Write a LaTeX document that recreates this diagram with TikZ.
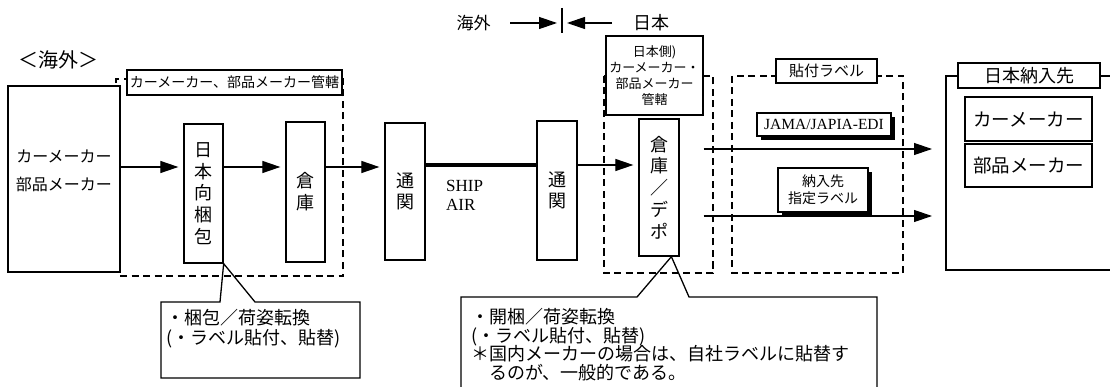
\documentclass[tikz,border=0pt]{standalone}
\usepackage{fontspec}
\setmainfont{Noto Sans CJK JP}
\newfontfamily\latserif{Liberation Serif}
\usetikzlibrary{arrows.meta,shadows,calc}
\newcommand\jfs[2]{\fontsize{#1}{#2}\selectfont}
\begin{document}
\begin{tikzpicture}[x=1pt,y=-1pt,
  box/.style={draw, line width=1.3pt, fill=white, inner sep=0pt},
  dbox/.style={draw, line width=1.3pt, dash pattern=on 7pt off 4.5pt},
  arr/.style={line width=1.2pt, -{Triangle[length=18pt,width=12pt]}, shorten >=5pt},
  shbox/.style={box, drop shadow={shadow xshift=4pt, shadow yshift=-4pt, fill=black, opacity=1}},
  vertbox/.style={box, minimum width=40pt, align=center, font=\jfs{18}{21.7}},
  cobox/.style={draw, line width=1.3pt, line join=miter},
  cotext/.style={anchor=north west, inner sep=0pt, align=left, font=\jfs{18}{18.7}},
]
\useasboundingbox (0,0) rectangle (1110,387);

% header
\node[font=\jfs{20}{24}] (oversea) at (58,60) {＜海外＞};
\node[font=\jfs{17}{20}] (kaigai) at (473.5,23) {海外};
\node[font=\jfs{18}{20}] (nihon) at (651,23) {日本};
\coordinate (ka) at (510,23); \coordinate (kb) at (557,23);
\coordinate (kc) at (612,23); \coordinate (kd) at (567,23);
\coordinate (bt) at (562,8); \coordinate (bb) at (562,33);
\draw[line width=1.2pt] (bt) -- (bb);
\draw[arr, shorten >=0pt] (ka) -- (kb);
\draw[arr, shorten >=0pt] (kc) -- (kd);

% overseas group
\draw[dbox] (120,276) -- (343,276) -- (343,79) -- (116,79) -- (116,86);
\node[box, minimum width=112pt, minimum height=186pt] (src) at (64,179) {};
\node[font=\jfs{16}{28}, align=center] (srct) at (64,171) {カーメーカー\\部品メーカー};
\node[box, minimum width=215pt, minimum height=25pt, font=\jfs{14}{16}] (g1) at (234.5,82.5) {カーメーカー、部品メーカー管轄};
\node[vertbox, minimum width=39pt, minimum height=139pt] (pack) at (203.5,193.5) {日\\本\\向\\梱\\包};
\node[vertbox, minimum width=39pt, minimum height=140pt] (wh1) at (305.5,192) {倉\\庫};
\node[vertbox, minimum height=137pt] (cus1) at (405,191.5) {通\\関};
\node[font=\latserif\fontsize{17}{19}\selectfont, align=left, anchor=west, inner sep=0pt] (ship) at (446,195) {SHIP\\AIR};
\node[vertbox, minimum height=139pt] (cus2) at (557,190.5) {通\\関};

% Japan side
\draw[dbox] (604,76) rectangle (713,273);
\node[box, minimum width=97pt, minimum height=79pt, align=center, font=\jfs{13}{16}] (jp) at (654.5,75.5) {日本側)\\カーメーカー・\\部品メーカー\\管轄};
\node[vertbox, minimum height=137pt] (depot) at (659,187.5) {倉\\庫\\／\\デ\\ポ};

\draw[dbox] (732,76) rectangle (903,273);
\node[box, minimum width=101pt, minimum height=24pt, font=\jfs{15}{18}] (lbl) at (826.5,71) {貼付ラベル};
\node[shbox, minimum width=134pt, minimum height=23pt, font=\latserif\fontsize{15.5}{18}\selectfont] (edi) at (824,124.5) {JAMA/JAPIA-EDI};
\node[shbox, minimum width=90pt, minimum height=44pt, align=center, font=\jfs{14}{17}] (shitei) at (823,190) {納入先\\指定ラベル};

% destination
\coordinate (destL) at (946,76);
\draw[line width=1.3pt] (1110,76) -- (destL) -- (946,270) -- (1110,270);
\node[box, minimum width=142pt, minimum height=25pt, font=\jfs{18}{20}] (dst) at (1029,75.5) {日本納入先};
\node[box, minimum width=127pt, minimum height=44pt, font=\jfs{18.5}{20}] (car) at (1028.5,119) {カーメーカー};
\node[box, minimum width=127pt, minimum height=43pt, font=\jfs{18.5}{20}] (parts) at (1028.5,165.5) {部品メーカー};

% flow
\coordinate (yA) at (0,167);
\coordinate (yB) at (0,165);
\coordinate (yU) at (0,149);
\coordinate (yL) at (0,216);
\draw[arr] (src.east |- yA) -- (pack.west |- yA);
\draw[arr] (pack.east |- yA) -- (wh1.west |- yA);
\draw[arr] (wh1.east |- yA) -- (cus1.west |- yA);
\draw[line width=3.5pt] (cus1.east |- yB) -- (cus2.west |- yB);
\draw[arr] (cus2.east |- yB) -- (depot.west |- yB);
\draw[arr, shorten <=24pt, shorten >=14pt] (depot.east |- yU) -- (destL |- yU);
\draw[arr, shorten <=24pt, shorten >=14pt] (depot.east |- yL) -- (destL |- yL);

% callouts
\coordinate (p1a) at (220,302); \coordinate (p1b) at (255,302);
\draw[cobox] (161,302) -- (p1a) -- (pack.south east) -- (p1b) -- (360,302) -- (360,378) -- (161,378) -- cycle;
\node[cotext, font=\jfs{18}{20}] (c1t) at (166,309) {・梱包／荷姿転換\\(・ラベル貼付、貼替)};

\coordinate (p2a) at (637,297); \coordinate (p2b) at (689,297);
\coordinate (tip2) at ($(depot.south)!0.6!(depot.south east)$);
\draw[cobox] (461,387) -- (461,297) -- (p2a) -- (tip2) -- (p2b) -- (877,297) -- (877,387);
\node[cotext] (c2t) at (471,308) {・開梱／荷姿転換\\(・ラベル貼付、貼替)\\＊国内メーカーの場合は、自社ラベルに貼替す\\　るのが、一般的である。};
\end{tikzpicture}
\end{document}
